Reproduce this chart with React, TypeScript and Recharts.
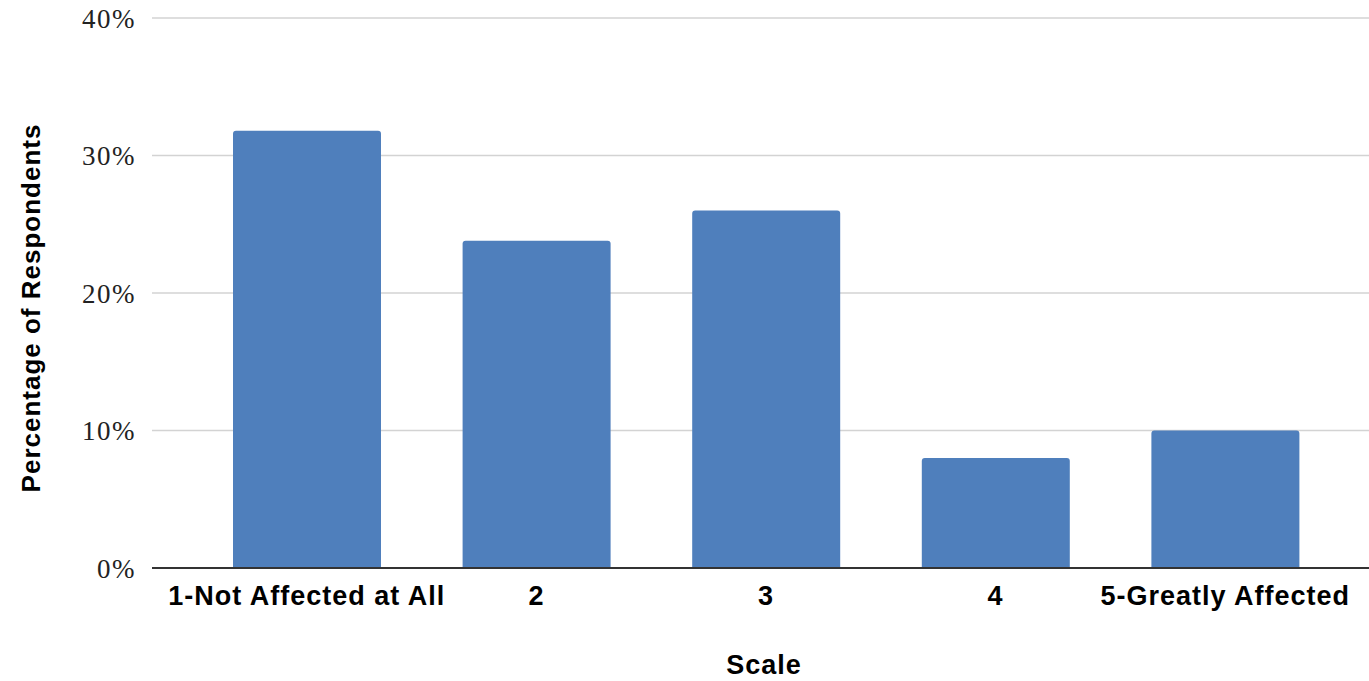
import React from 'react';
import { BarChart, Bar, XAxis, YAxis, CartesianGrid } from 'recharts';

const categories = ['1-Not Affected at All', '2', '3', '4', '5-Greatly Affected'];
const percentages = [31.8, 23.8, 26.0, 8.0, 10.0];
const yTicks = [0, 10, 20, 30, 40];

const data = categories.map((c, i) => ({ name: c, value: percentages[i] }));

const sansBold = { fontFamily: '"Liberation Sans", Arial, sans-serif', fontWeight: 700 };

const YLabel = () => (
  <text
    transform="translate(31,308) rotate(-90)"
    textAnchor="middle"
    dominantBaseline="central"
    fontSize={26}
    letterSpacing={1}
    fill="#000"
    style={sansBold}
  >
    Percentage of Respondents
  </text>
);

const XLabel = () => (
  <text x={764} y={674} textAnchor="middle" fontSize={27} letterSpacing={1} fill="#000" style={sansBold}>
    Scale
  </text>
);

export default function App() {
  return (
    <div style={{ position: 'absolute', left: 0, top: 0, width: 1369, height: 681, background: '#fff' }}>
      <BarChart width={1369} height={681} data={data} margin={{ top: 18, right: 0, left: 0, bottom: 0 }}>
        <CartesianGrid vertical={false} stroke="#d3d3d3" strokeWidth={1.5} />
        <XAxis
          dataKey="name"
          height={113}
          padding={{ left: 40, right: 29 }}
          tickLine={false}
          axisLine={{ stroke: '#333', strokeWidth: 2 }}
          tick={{ fontSize: 27, letterSpacing: 1, fill: '#000', ...sansBold }}
          tickMargin={12}
          interval={0}
          label={<XLabel />}
        />
        <YAxis
          width={152}
          domain={[0, 40]}
          ticks={yTicks}
          tickFormatter={(v) => `${v}%`}
          axisLine={false}
          tickLine={false}
          tickSize={8}
          tickMargin={8}
          tick={{ fontSize: 27, letterSpacing: 1.5, fill: '#222', fontFamily: '"Liberation Serif", "Times New Roman", serif' }}
          label={<YLabel />}
        />
        <Bar dataKey="value" fill="#4f7fbc" barSize={148} radius={[3, 3, 0, 0]} isAnimationActive={false} />
      </BarChart>
    </div>
  );
}
